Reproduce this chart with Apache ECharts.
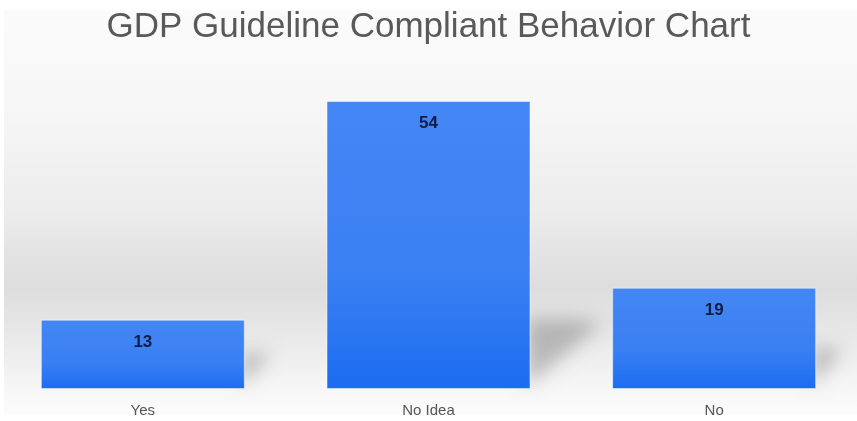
<!DOCTYPE html>
<html><head><meta charset="utf-8">
<script src="https://cdn.jsdelivr.net/npm/echarts@6/dist/echarts.min.js"></script>
<style>html,body{margin:0;padding:0;background:#fff}#c{width:857px;height:421px}</style>
</head><body><div id="c"></div>
<script>
const title = "GDP Guideline Compliant Behavior Chart";
const categories = ["Yes", "No Idea", "No"];
const values = [13, 54, 19];

const BAR_W = 204;
const OFF = 3000;
const chart = echarts.init(document.getElementById('c'));
chart.setOption({
  animation: false,
  backgroundColor: '#ffffff',
  graphic: [{
    type: 'rect', z: -10, silent: true,
    shape: {x: 4, y: 10, width: 853, height: 405},
    style: {fill: new echarts.graphic.LinearGradient(0, 0, 0, 1, [
      {offset: 0, color: '#fbfbfb'},
      {offset: 0.25, color: '#f6f6f6'},
      {offset: 0.5, color: '#ececec'},
      {offset: 0.68, color: '#dddddd'},
      {offset: 0.77, color: '#e5e5e5'},
      {offset: 0.92, color: '#f5f5f5'},
      {offset: 1, color: '#fcfcfc'}
    ])}
  }],
  title: {
    text: title, left: 'center', top: 5,
    textStyle: {fontFamily: 'Liberation Sans, Arial, sans-serif', fontSize: 35, fontWeight: 'normal', color: '#595959'}
  },
  grid: {left: 0, right: -5, top: 69, bottom: 32, containLabel: false},
  xAxis: {
    type: 'category', data: categories,
    axisLine: {show: false}, axisTick: {show: false},
    axisLabel: {fontFamily: 'Liberation Sans, Arial, sans-serif', fontSize: 15, color: '#555', margin: 14}
  },
  yAxis: {type: 'value', min: 0, max: 60, show: false, splitLine: {show: false}},
  series: [{
    type: 'custom', z: 1, silent: true, clip: false,
    data: values.map((v, i) => [i, v]),
    renderItem: function (params, api) {
      const i = api.value(0), v = api.value(1);
      const base = api.coord([i, 0]);
      const xr = base[0] + BAR_W / 2 - 4 - OFF;
      const by = base[1] - 2;
      const s = Math.min(22 + v * 0.9, 68);
      const w = v > 30 ? 76 : 30;
      return {
        type: 'polygon',
        shape: {points: [[xr, by - s], [xr + w * 0.6, by - s], [xr + w, by - s * 0.95], [xr, by]]},
        style: {
          fill: '#000',
          shadowBlur: 18, shadowColor: 'rgba(0,0,0,0.22)', shadowOffsetX: OFF, shadowOffsetY: 0
        }
      };
    }
  }, {
    type: 'bar', data: values, barWidth: BAR_W, z: 2, barGap: '-100%',
    itemStyle: {
      color: new echarts.graphic.LinearGradient(0, 0, 0, 1, [
        {offset: 0, color: '#4486f4'},
        {offset: 0.6, color: '#3a80f3'},
        {offset: 1, color: '#1c6cf0'}
      ]),
      borderColor: 'rgba(255,255,255,0.5)', borderWidth: 1
    },
    label: {
      show: true, position: 'insideTop', distance: 14,
      fontFamily: 'Liberation Sans, Arial, sans-serif', fontSize: 17, fontWeight: 'bold', color: '#0f1c46'
    }
  }]
});
</script></body></html>
